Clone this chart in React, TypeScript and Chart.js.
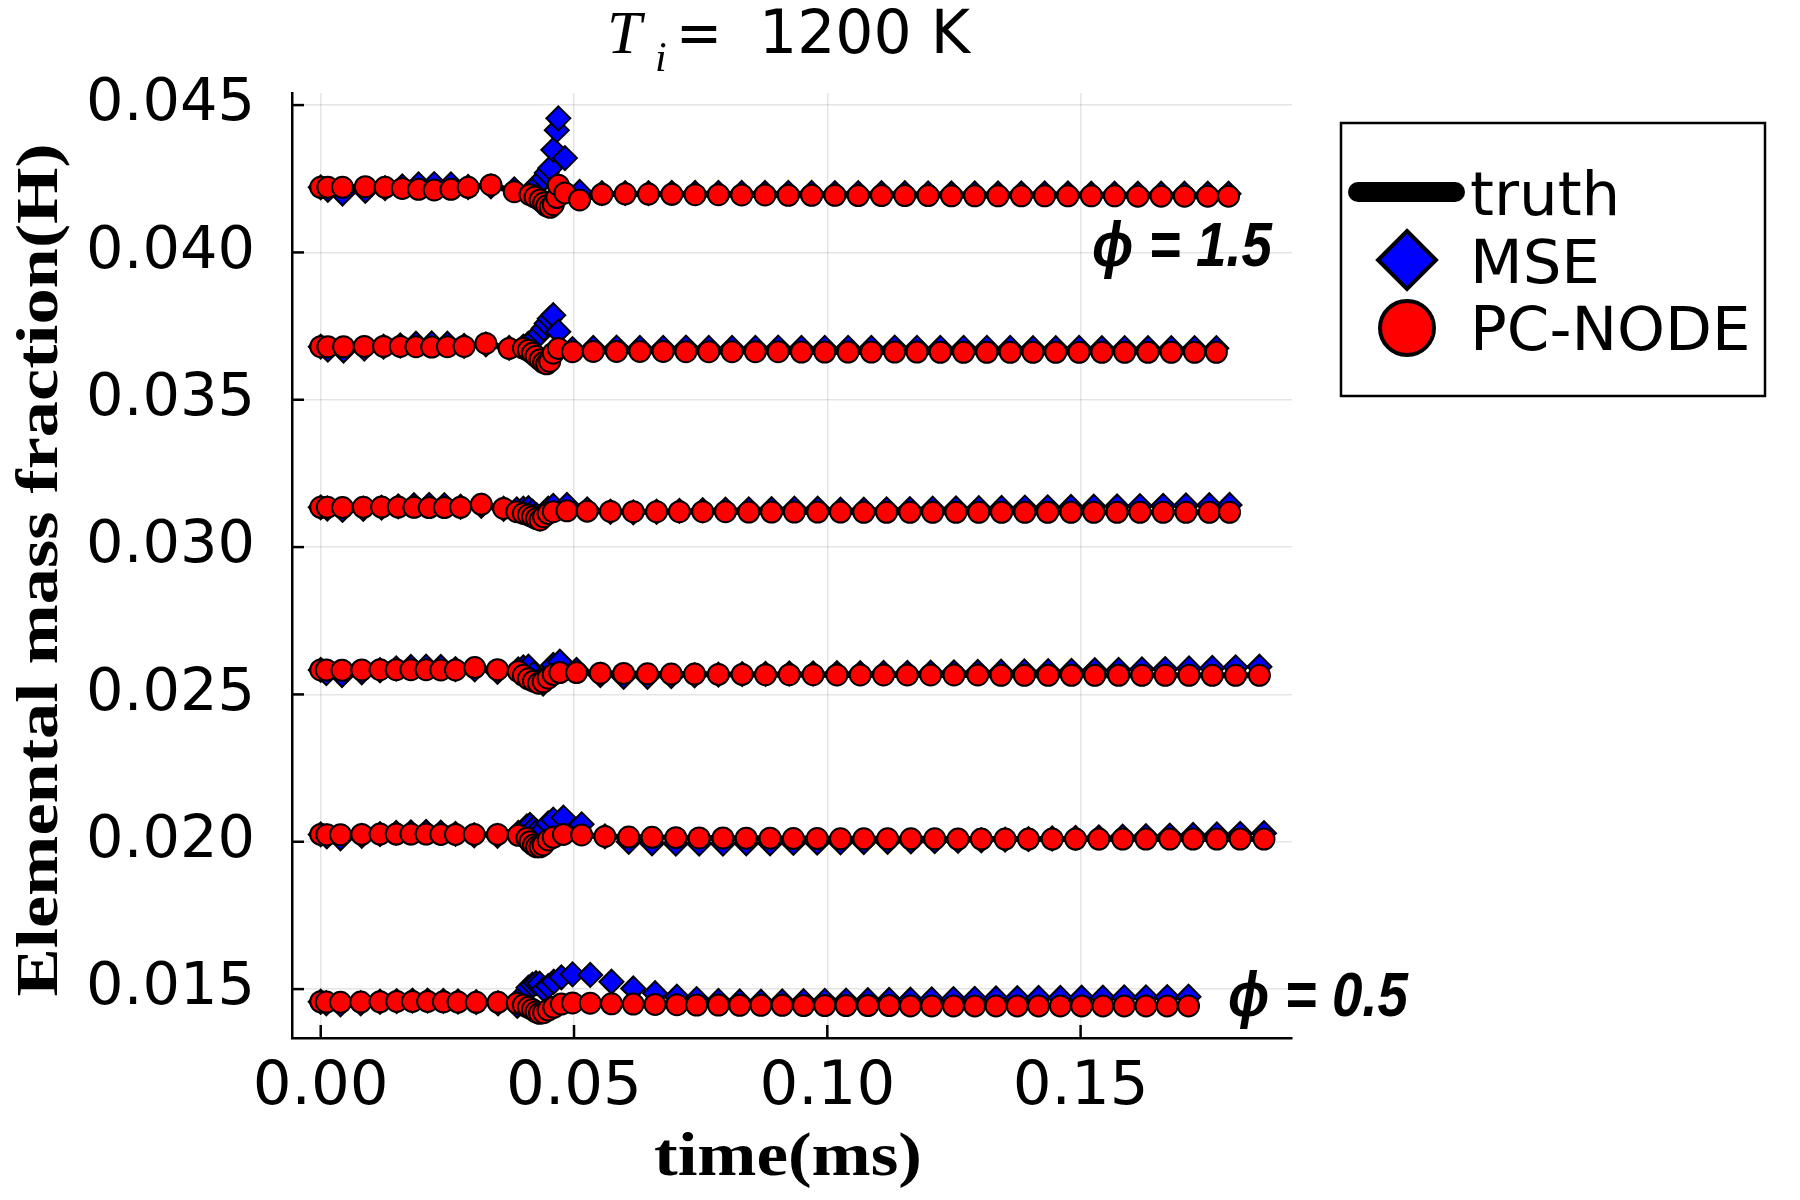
import React, { useEffect, useRef } from "react";
import { Chart, registerables } from "chart.js";

Chart.register(...registerables);

// ---------- axes ----------
const xTicks = [0, 0.05, 0.1, 0.15];
const yTicks = [0.015, 0.02, 0.025, 0.03, 0.035, 0.04, 0.045];
const X_MIN = -0.00567;
const X_MAX = 0.19173;
const Y_MIN = 0.01334;
const Y_MAX = 0.04541;

const titleMain = "1200 K";
const xTitle = "time(ms)";
const yTitle = "Elemental mass fraction(H)";
const seriesNames = ["truth", "MSE", "PC-NODE"];
const phiTop = "ϕ = 1.5";
const phiBottom = "ϕ = 0.5";

// ---------- phi = 1.5 ----------
const t15 = [
  0, 0.0014, 0.0043, 0.0088, 0.0127, 0.0161, 0.0193, 0.0224, 0.0257, 0.0291,
  0.0336, 0.0382, 0.0413, 0.0423, 0.0433, 0.044, 0.0446, 0.0453, 0.0459, 0.0466,
  0.0469, 0.0482, 0.0511, 0.0555, 0.0601, 0.0647, 0.0693, 0.0739, 0.0785, 0.0831,
  0.0877, 0.0923, 0.0969, 0.1015, 0.1061, 0.1107, 0.1153, 0.1199, 0.1245, 0.1291,
  0.1337, 0.1383, 0.1429, 0.1475, 0.1521, 0.1567, 0.1613, 0.1659, 0.1705, 0.1751,
  0.1792,
];
const mse15 = [
  0.04221, 0.04212, 0.042, 0.04209, 0.04218, 0.04224, 0.04231, 0.04232, 0.04231, 0.04222,
  0.04224, 0.04214, 0.04205, 0.04222, 0.04236, 0.04252, 0.0427, 0.04286, 0.04348, 0.04415,
  0.04455, 0.0432, 0.04205, 0.04201, 0.04201, 0.04201, 0.04202, 0.04202, 0.04202, 0.04202,
  0.04202, 0.04202, 0.04202, 0.04201, 0.04201, 0.04201, 0.04201, 0.042, 0.042, 0.042,
  0.042, 0.042, 0.042, 0.042, 0.04199, 0.04199, 0.04199, 0.04199, 0.04199, 0.04199,
  0.04199,
];
const pc15 = [
  0.04221, 0.04221, 0.04221, 0.04223, 0.04221, 0.04217, 0.04214, 0.04212, 0.04214, 0.04221,
  0.04229, 0.04206, 0.04196, 0.04188, 0.04178, 0.04168, 0.04158, 0.04153, 0.04162, 0.04186,
  0.04228, 0.04202, 0.04178, 0.04197, 0.04199, 0.04198, 0.04197, 0.04196, 0.04196, 0.04195,
  0.04195, 0.04194, 0.04194, 0.04194, 0.04193, 0.04193, 0.04193, 0.04193, 0.04192, 0.04192,
  0.04192, 0.04192, 0.04192, 0.04192, 0.04192, 0.04192, 0.04191, 0.04191, 0.04191, 0.04191,
  0.04191,
];

// ---------- phi = 1.3 ----------
const t13 = [
  0, 0.0014, 0.0045, 0.0086, 0.0124, 0.0157, 0.0188, 0.0219, 0.025, 0.0283,
  0.0326, 0.0372, 0.04, 0.041, 0.0418, 0.0425, 0.0433, 0.044, 0.0446, 0.0452,
  0.0459, 0.0469, 0.0497, 0.0538, 0.0584, 0.063, 0.0676, 0.0721, 0.0766, 0.0812,
  0.0858, 0.0903, 0.0949, 0.0995, 0.1041, 0.1087, 0.1133, 0.1177, 0.1223, 0.1269,
  0.1315, 0.1361, 0.1406, 0.1451, 0.1497, 0.1542, 0.1587, 0.1633, 0.1679, 0.1725,
  0.1768,
];
const mse13 = [
  0.0368, 0.0367, 0.03667, 0.03674, 0.0368, 0.03684, 0.0369, 0.03691, 0.0369, 0.03683,
  0.03688, 0.03676, 0.0368, 0.0369, 0.037, 0.03712, 0.03725, 0.03742, 0.03759, 0.03775,
  0.03787, 0.03731, 0.03672, 0.03676, 0.03677, 0.03676, 0.03676, 0.03677, 0.03676, 0.03676,
  0.03676, 0.03677, 0.03676, 0.03676, 0.03676, 0.03676, 0.03677, 0.03676, 0.03676, 0.03676,
  0.03676, 0.03676, 0.03675, 0.03675, 0.03676, 0.03675, 0.03675, 0.03675, 0.03675, 0.03675,
  0.03675,
];
const pc13 = [
  0.0368, 0.0368, 0.0368, 0.03681, 0.03681, 0.03681, 0.0368, 0.03679, 0.0368, 0.03681,
  0.03691, 0.03674, 0.03675, 0.03668, 0.03658, 0.03648, 0.03636, 0.03626, 0.03622, 0.0363,
  0.03658, 0.03674, 0.03663, 0.03664, 0.03664, 0.03664, 0.03664, 0.03663, 0.03663, 0.03663,
  0.03663, 0.03663, 0.03662, 0.03662, 0.03662, 0.03662, 0.03662, 0.03662, 0.03661, 0.03661,
  0.03661, 0.03661, 0.03661, 0.03661, 0.03661, 0.03661, 0.03661, 0.03661, 0.03661, 0.03661,
  0.03661,
];

// ---------- phi = 1.1 ----------
const t11 = [
  0, 0.0013, 0.0043, 0.0084, 0.012, 0.0153, 0.0184, 0.0214, 0.0244, 0.0276,
  0.0317, 0.0361, 0.0387, 0.04, 0.041, 0.0418, 0.0426, 0.0433, 0.044, 0.0449,
  0.0459, 0.0486, 0.0526, 0.0572, 0.0617, 0.0663, 0.0708, 0.0754, 0.0799, 0.0845,
  0.089, 0.0935, 0.0981, 0.1026, 0.1072, 0.1117, 0.1163, 0.1208, 0.1254, 0.1299,
  0.1344, 0.139, 0.1435, 0.1481, 0.1526, 0.1572, 0.1617, 0.1663, 0.1708, 0.1754,
  0.1794,
];
const mse11 = [
  0.03135, 0.03131, 0.03126, 0.0313, 0.03134, 0.03138, 0.03142, 0.03143, 0.03142, 0.03137,
  0.0314, 0.0313, 0.03128, 0.0313, 0.03132, 0.0312, 0.03108, 0.03097, 0.03112, 0.0313,
  0.0314, 0.03143, 0.03128, 0.0312, 0.03118, 0.0312, 0.03123, 0.03125, 0.03127, 0.03128,
  0.03129, 0.0313, 0.0313, 0.03127, 0.03127, 0.03128, 0.03129, 0.0313, 0.03131, 0.03132,
  0.03133, 0.03134, 0.03135, 0.03136, 0.03137, 0.03138, 0.03139, 0.0314, 0.03141, 0.03142,
  0.03143,
];
const pc11 = [
  0.03135, 0.03135, 0.03134, 0.03135, 0.03136, 0.03136, 0.03135, 0.03134, 0.03134, 0.03135,
  0.03145, 0.03131, 0.0312, 0.03114, 0.03109, 0.03103, 0.03097, 0.03092, 0.03103, 0.03114,
  0.0312, 0.03123, 0.03122, 0.03121, 0.0312, 0.0312, 0.0312, 0.0312, 0.0312, 0.03119,
  0.03119, 0.03119, 0.03119, 0.03119, 0.03118, 0.03118, 0.03118, 0.03118, 0.03118, 0.03118,
  0.03118, 0.03118, 0.03118, 0.03118, 0.03118, 0.03118, 0.03118, 0.03118, 0.03118, 0.03118,
  0.03118,
];

// ---------- phi = 0.9 ----------
const t09 = [
  0, 0.0011, 0.0042, 0.0081, 0.0117, 0.0149, 0.0178, 0.0208, 0.0237, 0.0266,
  0.0304, 0.0349, 0.039, 0.04, 0.041, 0.042, 0.043, 0.0439, 0.0449, 0.0459,
  0.0472, 0.0505, 0.0552, 0.0598, 0.0645, 0.0692, 0.0738, 0.0785, 0.0832, 0.0878,
  0.0925, 0.0972, 0.1019, 0.1065, 0.1111, 0.1158, 0.1204, 0.125, 0.1297, 0.1343,
  0.1389, 0.1436, 0.1482, 0.1528, 0.1575, 0.1621, 0.1667, 0.1714, 0.176, 0.1806,
  0.1853,
];
const mse09 = [
  0.02583, 0.02572, 0.02566, 0.02575, 0.02582, 0.02588, 0.02593, 0.02594, 0.02593, 0.02586,
  0.02585, 0.02577, 0.02585, 0.02592, 0.02594, 0.0257, 0.02545, 0.02537, 0.0257, 0.026,
  0.02611, 0.02583, 0.02566, 0.0256, 0.0256, 0.02562, 0.02565, 0.02567, 0.02569, 0.0257,
  0.02571, 0.02571, 0.02572, 0.02572, 0.02573, 0.02573, 0.02574, 0.02575, 0.02576, 0.02577,
  0.02578, 0.02579, 0.0258, 0.02582, 0.02583, 0.02585, 0.02586, 0.02588, 0.0259, 0.02592,
  0.02594,
];
const pc09 = [
  0.02583, 0.02583, 0.02582, 0.02583, 0.02584, 0.02584, 0.02584, 0.02584, 0.02583, 0.02583,
  0.02591, 0.02584, 0.02578, 0.02565, 0.02553, 0.02545, 0.02538, 0.02543, 0.02555, 0.02568,
  0.02574, 0.02574, 0.02572, 0.02571, 0.0257, 0.02569, 0.02569, 0.02568, 0.02568, 0.02567,
  0.02567, 0.02567, 0.02566, 0.02566, 0.02566, 0.02566, 0.02566, 0.02566, 0.02566, 0.02565,
  0.02565, 0.02565, 0.02565, 0.02565, 0.02565, 0.02565, 0.02565, 0.02565, 0.02565, 0.02565,
  0.02565,
];

// ---------- phi = 0.7 ----------
const t07 = [
  0, 0.0012, 0.0039, 0.0081, 0.0117, 0.0149, 0.0178, 0.0208, 0.0237, 0.0266,
  0.0303, 0.0349, 0.039, 0.0407, 0.0413, 0.042, 0.0426, 0.0433, 0.0439, 0.0449,
  0.0459, 0.0479, 0.0515, 0.0561, 0.0608, 0.0654, 0.0701, 0.0747, 0.0794, 0.084,
  0.0887, 0.0933, 0.098, 0.1026, 0.1072, 0.1119, 0.1165, 0.1212, 0.1258, 0.1304,
  0.1351, 0.1397, 0.1444, 0.149, 0.1536, 0.1583, 0.1629, 0.1676, 0.1722, 0.1769,
  0.1815, 0.1862,
];
const mse07 = [
  0.02025, 0.02018, 0.02012, 0.0202, 0.02026, 0.0203, 0.02032, 0.02033, 0.02031, 0.02027,
  0.02022, 0.0202, 0.0203, 0.02052, 0.02057, 0.02045, 0.02035, 0.0202, 0.0204, 0.02062,
  0.02075, 0.02082, 0.02059, 0.02018, 0.02, 0.01995, 0.01994, 0.01994, 0.01994, 0.01995,
  0.01995, 0.01996, 0.01997, 0.01998, 0.01999, 0.02, 0.02001, 0.02002, 0.02003, 0.02005,
  0.02007, 0.02009, 0.02011, 0.02013, 0.02015, 0.02017, 0.02019, 0.02021, 0.02023, 0.02025,
  0.02027, 0.02029,
];
const pc07 = [
  0.02025, 0.02024, 0.02024, 0.02025, 0.02026, 0.02026, 0.02026, 0.02026, 0.02025, 0.02025,
  0.02025, 0.02025, 0.02022, 0.02012, 0.02, 0.01989, 0.01983, 0.01983, 0.01989, 0.02006,
  0.02015, 0.02025, 0.02023, 0.02018, 0.02016, 0.02015, 0.02014, 0.02013, 0.02013, 0.02012,
  0.02012, 0.02011, 0.02011, 0.0201, 0.0201, 0.0201, 0.0201, 0.0201, 0.02009, 0.02009,
  0.02009, 0.02009, 0.02009, 0.02009, 0.02009, 0.02009, 0.02009, 0.02009, 0.02009, 0.02009,
  0.02009, 0.02009,
];

// ---------- phi = 0.5 ----------
const t05 = [
  0, 0.0011, 0.0039, 0.0079, 0.0117, 0.015, 0.0181, 0.0211, 0.0242, 0.0271,
  0.0307, 0.035, 0.0388, 0.04, 0.041, 0.0418, 0.0425, 0.0432, 0.044, 0.0449,
  0.046, 0.0475, 0.0497, 0.0532, 0.0574, 0.0617, 0.066, 0.0703, 0.0742, 0.0785,
  0.0827, 0.0869, 0.0911, 0.0953, 0.0995, 0.1037, 0.108, 0.1122, 0.1164, 0.1206,
  0.1249, 0.1291, 0.1333, 0.1375, 0.1417, 0.146, 0.1502, 0.1544, 0.1586, 0.1629,
  0.1671, 0.1713,
];
const mse05 = [
  0.01457, 0.01452, 0.01448, 0.01452, 0.01457, 0.01459, 0.01461, 0.01461, 0.0146, 0.01458,
  0.01456, 0.01452, 0.01443, 0.0148, 0.01505, 0.01515, 0.0152, 0.01518, 0.015, 0.0151,
  0.01525, 0.0154, 0.0155, 0.01548, 0.01525, 0.01502, 0.01486, 0.01474, 0.01466, 0.0146,
  0.01458, 0.01457, 0.01458, 0.01459, 0.0146, 0.01461, 0.01462, 0.01463, 0.01464, 0.01465,
  0.01466, 0.01467, 0.01468, 0.01469, 0.0147, 0.0147, 0.01471, 0.01471, 0.01472, 0.01472,
  0.01473, 0.01474,
];
const pc05 = [
  0.01457, 0.01456, 0.01455, 0.01456, 0.01457, 0.01458, 0.01458, 0.01458, 0.01457, 0.01456,
  0.01455, 0.01455, 0.01452, 0.01446, 0.01438, 0.01431, 0.01423, 0.01418, 0.0142, 0.01429,
  0.01438, 0.01449, 0.01453, 0.01452, 0.0145, 0.01449, 0.01448, 0.01447, 0.01446, 0.01446,
  0.01445, 0.01445, 0.01445, 0.01444, 0.01444, 0.01444, 0.01444, 0.01444, 0.01443, 0.01443,
  0.01443, 0.01443, 0.01443, 0.01443, 0.01443, 0.01443, 0.01443, 0.01443, 0.01443, 0.01443,
  0.01443, 0.01443,
];

// truth traces lie under the PC-NODE markers (PC-NODE reproduces them)
const truth15 = pc15;
const truth13 = pc13;
const truth11 = pc11;
const truth09 = pc09;
const truth07 = pc07;
const truth05 = pc05;

const curves = [
  { t: t15, truth: truth15, mse: mse15, pc: pc15 },
  { t: t13, truth: truth13, mse: mse13, pc: pc13 },
  { t: t11, truth: truth11, mse: mse11, pc: pc11 },
  { t: t09, truth: truth09, mse: mse09, pc: pc09 },
  { t: t07, truth: truth07, mse: mse07, pc: pc07 },
  { t: t05, truth: truth05, mse: mse05, pc: pc05 },
];

function pts(t: number[], v: number[]) {
  const n = Math.min(t.length, v.length);
  const out: { x: number; y: number }[] = [];
  for (let i = 0; i < n; i++) out.push({ x: t[i], y: v[i] });
  return out;
}

function fitText(ctx: CanvasRenderingContext2D, text: string, x: number, y: number, width: number, align: "left" | "center") {
  const w = ctx.measureText(text).width;
  const s = width / w;
  ctx.save();
  ctx.translate(x, y);
  ctx.scale(s, 1);
  ctx.textAlign = align;
  ctx.fillText(text, 0, 0);
  ctx.restore();
}

const decorPlugin = {
  id: "decor",
  afterDraw(chart: any) {
    const ctx: CanvasRenderingContext2D = chart.ctx;
    const { left, bottom } = chart.chartArea;
    const xs = chart.scales.x;
    const ys = chart.scales.y;
    ctx.save();
    // inward tick marks
    ctx.strokeStyle = "#000";
    ctx.lineWidth = 2.5;
    yTicks.forEach((v) => {
      const py = ys.getPixelForValue(v);
      ctx.beginPath();
      ctx.moveTo(left, py);
      ctx.lineTo(left + 12, py);
      ctx.stroke();
    });
    xTicks.forEach((v) => {
      const px = xs.getPixelForValue(v);
      ctx.beginPath();
      ctx.moveTo(px, bottom);
      ctx.lineTo(px, bottom - 13);
      ctx.stroke();
    });

    ctx.fillStyle = "#000";
    ctx.textBaseline = "alphabetic";
    // title  T_i = 1200 K
    ctx.textAlign = "left";
    ctx.font = 'italic 62px "Liberation Serif"';
    ctx.fillText("T", 607, 53);
    ctx.font = 'italic 42px "Liberation Serif"';
    ctx.fillText("i", 655, 71);
    ctx.font = '60px "DejaVu Sans"';
    fitText(ctx, "=", 676, 53, 46, "left");
    ctx.fillText(titleMain, 759, 53);

    // x axis title
    ctx.font = 'bold 62px "Liberation Serif"';
    fitText(ctx, xTitle, 788, 1175, 268, "center");

    // y axis title (rotated)
    ctx.save();
    ctx.translate(57, 570);
    ctx.rotate(-Math.PI / 2);
    ctx.font = 'bold 60px "Liberation Serif"';
    fitText(ctx, yTitle, 0, 0, 853, "center");
    ctx.restore();

    // phi annotations
    ctx.font = 'bold italic 63px "Liberation Sans"';
    fitText(ctx, phiTop, 1092, 266, 180, "left");
    fitText(ctx, phiBottom, 1228, 1016, 180, "left");

    // legend
    ctx.fillStyle = "#fff";
    ctx.fillRect(1341, 123, 424, 273);
    ctx.strokeStyle = "#000";
    ctx.lineWidth = 2.5;
    ctx.strokeRect(1341, 123, 424, 273);

    ctx.lineCap = "round";
    ctx.lineWidth = 20;
    ctx.beginPath();
    ctx.moveTo(1358, 192);
    ctx.lineTo(1455, 192);
    ctx.stroke();
    ctx.lineCap = "butt";

    ctx.lineWidth = 4;
    ctx.fillStyle = "#0000ff";
    ctx.beginPath();
    ctx.moveTo(1407, 260 - 29);
    ctx.lineTo(1407 + 29, 260);
    ctx.lineTo(1407, 260 + 29);
    ctx.lineTo(1407 - 29, 260);
    ctx.closePath();
    ctx.fill();
    ctx.stroke();

    ctx.fillStyle = "#ff0000";
    ctx.beginPath();
    ctx.arc(1407, 328, 27, 0, Math.PI * 2);
    ctx.fill();
    ctx.stroke();

    ctx.fillStyle = "#000";
    ctx.font = '61px "DejaVu Sans"';
    ctx.textAlign = "left";
    ctx.fillText(seriesNames[0], 1470, 215);
    ctx.fillText(seriesNames[1], 1470, 283);
    ctx.fillText(seriesNames[2], 1470, 350);
    ctx.restore();
  },
};

export default function App() {
  const ref = useRef<HTMLCanvasElement>(null);
  useEffect(() => {
    const canvas = ref.current;
    if (!canvas) return;
    const datasets: any[] = [];
    curves.forEach((c) => {
      datasets.push({
        label: seriesNames[2],
        data: pts(c.t, c.pc),
        showLine: false,
        pointStyle: "circle",
        pointRadius: 10.5,
        pointBackgroundColor: "#ff0000",
        pointBorderColor: "#000000",
        pointBorderWidth: 2,
        backgroundColor: "#ff0000",
        borderColor: "#000000",
        order: 0,
      });
      datasets.push({
        label: seriesNames[1],
        data: pts(c.t, c.mse),
        showLine: false,
        pointStyle: "rectRot",
        pointRadius: 12,
        pointBackgroundColor: "#0000ff",
        pointBorderColor: "#000000",
        pointBorderWidth: 2,
        backgroundColor: "#0000ff",
        borderColor: "#000000",
        order: 1,
      });
      datasets.push({
        label: seriesNames[0],
        data: pts(c.t, c.truth),
        showLine: true,
        pointRadius: 0,
        borderColor: "#000000",
        borderWidth: 6,
        order: 2,
      });
    });

    const chart = new Chart(canvas, {
      type: "scatter",
      data: { datasets },
      options: {
        animation: false,
        responsive: false,
        devicePixelRatio: 1,
        events: [],
        layout: { padding: { top: 93, right: 508, left: 0, bottom: 0 } },
        plugins: {
          legend: { display: false },
          title: { display: false },
          tooltip: { enabled: false },
        },
        scales: {
          x: {
            type: "linear",
            min: X_MIN,
            max: X_MAX,
            afterBuildTicks: (scale: any) => {
              scale.ticks = xTicks.map((v) => ({ value: v }));
            },
            afterFit: (scale: any) => {
              scale.height = 162;
            },
            ticks: {
              color: "#000",
              padding: 14,
              maxRotation: 0,
              font: { family: "DejaVu Sans", size: 61, lineHeight: 1.2 },
              callback: (v: any) => Number(v).toFixed(2),
            },
            grid: { color: "rgba(0,0,0,0.1)", lineWidth: 1.5, drawTicks: false },
            border: { display: true, color: "#000", width: 2.5 },
          },
          y: {
            type: "linear",
            min: Y_MIN,
            max: Y_MAX,
            afterBuildTicks: (scale: any) => {
              scale.ticks = yTicks.map((v) => ({ value: v }));
            },
            afterFit: (scale: any) => {
              scale.width = 292;
            },
            ticks: {
              color: "#000",
              padding: 37,
              font: { family: "DejaVu Sans", size: 59, lineHeight: 1.2 },
              callback: (v: any) => Number(v).toFixed(3),
            },
            grid: { color: "rgba(0,0,0,0.1)", lineWidth: 1.5, drawTicks: false },
            border: { display: true, color: "#000", width: 2.5 },
          },
        },
      } as any,
      plugins: [decorPlugin],
    });
    return () => chart.destroy();
  }, []);

  return (
    <div style={{ position: "absolute", left: 0, top: 0, width: 1800, height: 1200, background: "#fff" }}>
      <canvas ref={ref} width={1800} height={1200} style={{ width: 1800, height: 1200, display: "block" }} />
    </div>
  );
}
